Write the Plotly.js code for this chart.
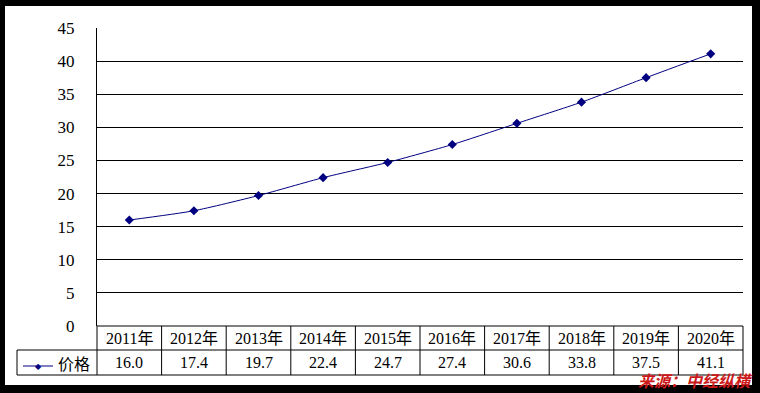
<!DOCTYPE html>
<html>
<head>
<meta charset="utf-8">
<script src="https://cdn.plot.ly/plotly-3.0.1.min.js"></script>
<style>html,body{margin:0;padding:0;background:#000;}#chart{width:760px;height:393px;}</style>
</head>
<body>
<div id="chart"></div>
<script>
var categories = ['2011年','2012年','2013年','2014年','2015年','2016年','2017年','2018年','2019年','2020年'];
var prices = [16.0, 17.4, 19.7, 22.4, 24.7, 27.4, 30.6, 33.8, 37.5, 41.1];
var seriesName = '价格';
var yTicks = [0, 5, 10, 15, 20, 25, 30, 35, 40, 45];
var sourceText = '来源：中经纵横';

var W = 760, H = 393, L = 97, R = 17, T = 28, B = 67;
var pw = W - L - R, ph = H - T - B;
function px2x(p){ return (p - L) / pw; }
function py2y(p){ return (H - B - p) / ph; }

var navy = '#000080';
var numFont = 'Liberation Serif, Noto Sans CJK SC, serif';
var cjkFont = 'Noto Sans CJK SC, sans-serif';

var shapes = [];
// white inner panel (black frame around)
shapes.push({type:'rect', xref:'paper', yref:'paper', x0:px2x(5), x1:px2x(752), y0:py2y(385), y1:py2y(6), fillcolor:'#fff', line:{width:0}, layer:'below'});
var yRow1 = py2y(350), yRow2 = py2y(375);
var xHead = px2x(17);
// horizontal table lines
shapes.push({type:'line', xref:'paper', yref:'paper', x0:0, x1:1, y0:0, y1:0, line:{color:'#000', width:1}});
shapes.push({type:'line', xref:'paper', yref:'paper', x0:xHead, x1:1, y0:yRow1, y1:yRow1, line:{color:'#000', width:1}});
shapes.push({type:'line', xref:'paper', yref:'paper', x0:xHead, x1:1, y0:yRow2, y1:yRow2, line:{color:'#000', width:1}});
// vertical table lines
for (var k = 0; k <= categories.length; k++) {
  shapes.push({type:'line', xref:'paper', yref:'paper', x0:k/categories.length, x1:k/categories.length, y0:yRow2, y1:0, line:{color:'#000', width:1}});
}
shapes.push({type:'line', xref:'paper', yref:'paper', x0:xHead, x1:xHead, y0:yRow2, y1:yRow1, line:{color:'#000', width:1}});
// legend key in table header
shapes.push({type:'line', xref:'paper', yref:'paper', x0:px2x(23), x1:px2x(53), y0:py2y(366), y1:py2y(366), line:{color:navy, width:1}});

var annotations = [];
categories.forEach(function(c, i){
  annotations.push({xref:'x', yref:'paper', x:i, y:(0 + yRow1)/2, text:c, showarrow:false, xanchor:'center', yanchor:'middle', font:{family:numFont, size:16, color:'#000'}});
  annotations.push({xref:'x', yref:'paper', x:i, y:(yRow1 + yRow2)/2, text:prices[i].toFixed(1), showarrow:false, xanchor:'center', yanchor:'middle', font:{family:numFont, size:16, color:'#000'}});
});
annotations.push({xref:'paper', yref:'paper', x:px2x(38), y:py2y(366), text:'◆', showarrow:false, xanchor:'center', yanchor:'middle', font:{family:'DejaVu Sans', size:8, color:navy}});
annotations.push({xref:'paper', yref:'paper', x:px2x(56), y:(yRow1 + yRow2)/2, text:seriesName, showarrow:false, xanchor:'left', yanchor:'middle', font:{family:cjkFont, size:16, color:'#000'}});
annotations.push({xref:'paper', yref:'paper', x:px2x(754), y:py2y(380), text:'<b>' + sourceText + '</b>', showarrow:false, xanchor:'right', yanchor:'middle', borderpad:0, font:{family:cjkFont, size:16, color:'#cc1a1a', style:'italic'}});

var trace = {
  type:'scatter', mode:'lines+markers', x:categories, y:prices, name:seriesName,
  line:{color:navy, width:1, shape:'spline', smoothing:0.6},
  marker:{symbol:'diamond', size:7, color:navy},
  cliponaxis:false, showlegend:false
};

var layout = {
  width:W, height:H,
  margin:{l:L, r:R, t:T, b:B, pad:0},
  paper_bgcolor:'#000', plot_bgcolor:'rgba(0,0,0,0)',
  showlegend:false,
  xaxis:{type:'category', range:[-0.5, categories.length - 0.5], showgrid:false, zeroline:false, showticklabels:false, showline:false, ticks:''},
  yaxis:{range:[0, 45], tickvals:yTicks, ticktext:yTicks.map(String), showgrid:true, gridcolor:'#000', gridwidth:1, zeroline:false, showline:true, linecolor:'#000', linewidth:1, ticks:'', ticklabelstandoff:18, tickfont:{family:numFont, size:17, color:'#000'}},
  shapes:shapes,
  annotations:annotations
};

Plotly.newPlot('chart', [trace], layout, {displayModeBar:false, staticPlot:true});
</script>
</body>
</html>
